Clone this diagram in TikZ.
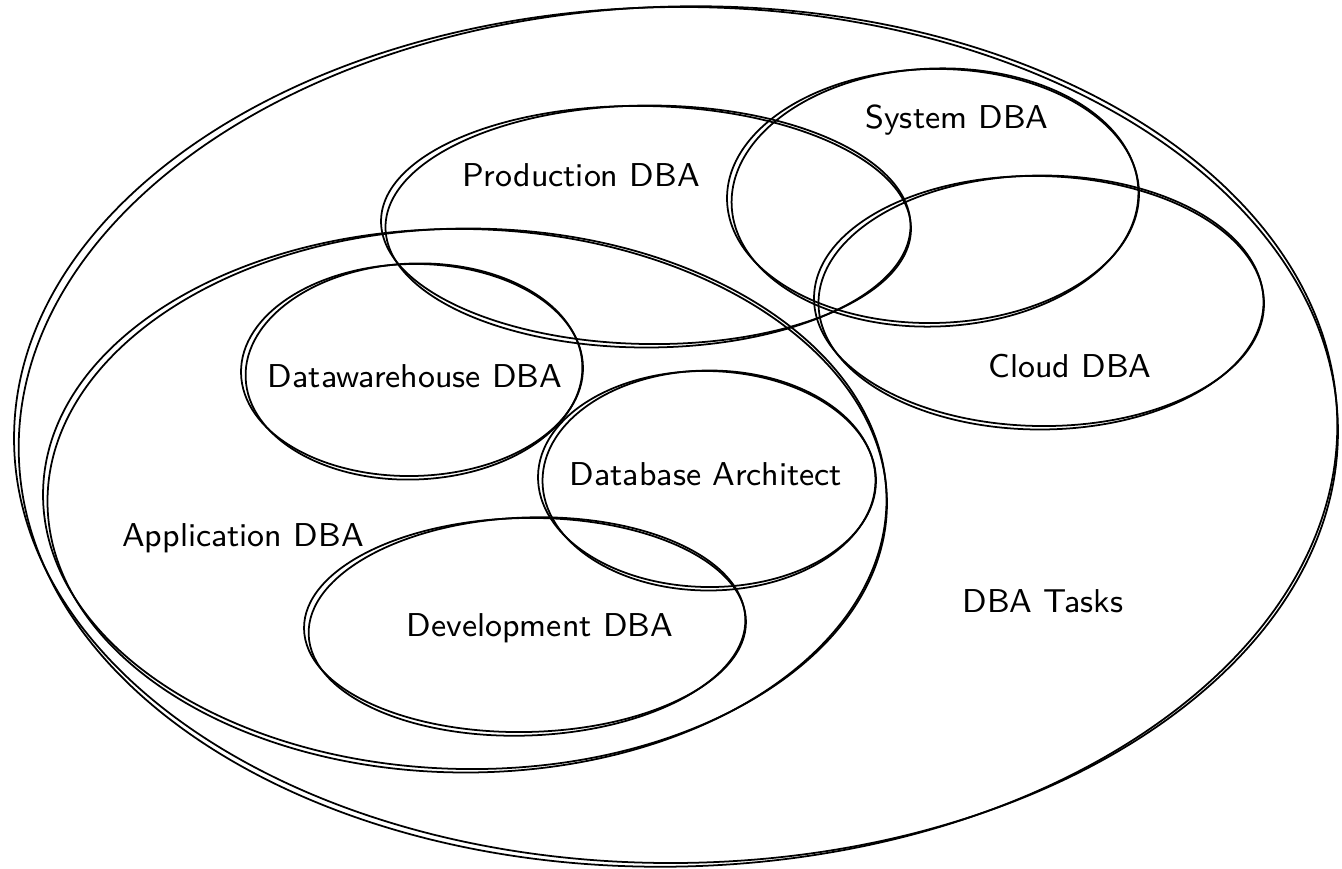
\documentclass[tikz,border=0pt]{standalone}
\usetikzlibrary{positioning}
\tikzset{
  sketch/.style={line width=0.5pt, black},
  rolelabel/.style={font=\sffamily\fontsize{9.4}{11}\selectfont}
}
\newcommand{\roughellipse}[5]{%
  \draw[sketch,rotate around={#5:(#1,#2)}] (#1,#2) ellipse ({#3} and {#4});
  \draw[sketch,rotate around={#5+1.2:(#1+0.02,#2-0.015)}] (#1+0.02,#2-0.015) ellipse ({#3-0.025} and {#4+0.02});}
\begin{document}
\begin{tikzpicture}
  \useasboundingbox (0,0) rectangle (13.42,8.68);
  \begin{scope}
    \roughellipse{6.76}{4.33}{6.62}{4.28}{0.5}
    \roughellipse{6.46}{6.43}{2.65}{1.19}{-1}
    \roughellipse{9.33}{6.72}{2.06}{1.27}{1}
    \roughellipse{10.39}{5.67}{2.25}{1.25}{-1}
    \roughellipse{4.65}{3.69}{4.22}{2.70}{-1}
    \roughellipse{4.12}{4.98}{1.71}{1.06}{1}
    \roughellipse{7.07}{3.89}{1.69}{1.08}{-1}
    \roughellipse{5.25}{2.43}{2.21}{1.07}{1}
  \end{scope}
  \draw
    (9.57,7.48) node[rolelabel] (sys){System DBA}
    (5.81,6.93) node[rolelabel] (prod){Production DBA}
    (10.70,5.02) node[rolelabel] (cloud){Cloud DBA}
    (4.15,4.92) node[rolelabel] (dwh){Datawarehouse DBA}
    (7.06,3.94) node[rolelabel] (arch){Database Architect}
    (2.43,3.30) node[rolelabel] (app){Application DBA}
    (5.40,2.40) node[rolelabel] (dev){Development DBA}
    (10.43,2.67) node[rolelabel] (tasks){DBA Tasks};
\end{tikzpicture}
\end{document}
